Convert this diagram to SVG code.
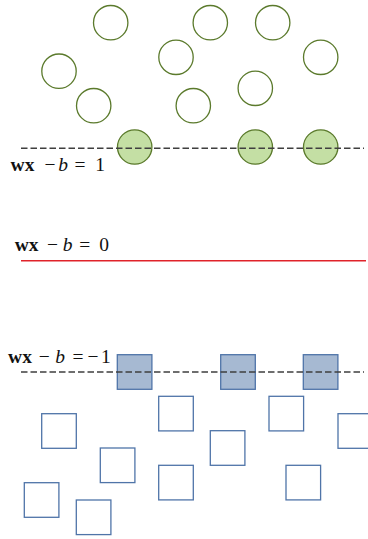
<svg xmlns="http://www.w3.org/2000/svg" width="368" height="539" viewBox="0 0 368 539">
  <style>
    .pt-c { fill: #ffffff; stroke: #5b7a2c; stroke-width: 1.3; }
    .pt-c.sv { fill: #c4dfa4; }
    .pt-s { fill: #ffffff; stroke: #4f74a8; stroke-width: 1.3; }
    .pt-s.sv { fill: #a6b9d2; }
    .margin { stroke: #3f3f3f; stroke-width: 1.5; stroke-dasharray: 6.5 3; fill: none; }
    .hyper { stroke: #e0232a; stroke-width: 1.6; fill: none; }
    .eq { font-family: "Liberation Serif", "DejaVu Serif", serif; font-size: 19.5px; fill: #111111; text-anchor: middle; }
    .eq .v { font-weight: bold; }
    .eq .i { font-style: italic; }
  </style>

  <!-- class +1: circles -->
  <g id="class-pos">
    <circle id="c1" class="pt-c" cx="110.7" cy="22.7" r="17.2"/>
    <circle id="c2" class="pt-c" cx="210.3" cy="22.7" r="17.2"/>
    <circle id="c3" class="pt-c" cx="272.7" cy="22.7" r="17.2"/>
    <circle id="c4" class="pt-c" cx="176" cy="57.3" r="17.2"/>
    <circle id="c5" class="pt-c" cx="320.7" cy="57.3" r="17.2"/>
    <circle id="c6" class="pt-c" cx="59" cy="71.2" r="17.2"/>
    <circle id="c7" class="pt-c" cx="255.3" cy="88.3" r="17.2"/>
    <circle id="c8" class="pt-c" cx="93.7" cy="105.7" r="17.2"/>
    <circle id="c9" class="pt-c" cx="193.3" cy="105.7" r="17.2"/>
    <circle id="c10" class="pt-c sv" cx="134.7" cy="147" r="17.2"/>
    <circle id="c11" class="pt-c sv" cx="255.3" cy="147" r="17.2"/>
    <circle id="c12" class="pt-c sv" cx="320.7" cy="147" r="17.2"/>
  </g>

  <!-- class -1: squares -->
  <g id="class-neg">
    <rect id="s1" class="pt-s sv" x="117.3" y="354.7" width="34.6" height="34.6"/>
    <rect id="s2" class="pt-s sv" x="220.7" y="354.7" width="34.6" height="34.6"/>
    <rect id="s3" class="pt-s sv" x="303.3" y="354.7" width="34.6" height="34.6"/>
    <rect id="s4" class="pt-s" x="158.7" y="396.3" width="34.6" height="34.6"/>
    <rect id="s5" class="pt-s" x="269" y="396.3" width="34.6" height="34.6"/>
    <rect id="s6" class="pt-s" x="41.7" y="413.7" width="34.6" height="34.6"/>
    <rect id="s7" class="pt-s" x="338" y="413.7" width="34.6" height="34.6"/>
    <rect id="s8" class="pt-s" x="210.3" y="430.7" width="34.6" height="34.6"/>
    <rect id="s9" class="pt-s" x="100.3" y="448" width="34.6" height="34.6"/>
    <rect id="s10" class="pt-s" x="158.7" y="465.3" width="34.6" height="34.6"/>
    <rect id="s11" class="pt-s" x="286" y="465.3" width="34.6" height="34.6"/>
    <rect id="s12" class="pt-s" x="24.3" y="482.7" width="34.6" height="34.6"/>
    <rect id="s13" class="pt-s" x="76.3" y="500" width="34.6" height="34.6"/>
  </g>

  <!-- margin boundaries and separating hyperplane -->
  <g id="lines">
    <line class="margin" x1="21" y1="148.3" x2="364" y2="148.3"/>
    <line class="hyper" x1="21" y1="260.7" x2="366" y2="260.7"/>
    <line class="margin" x1="21" y1="372" x2="364" y2="372"/>
  </g>

  <!-- equation labels, each symbol centred at its own position -->
  <g id="labels">
    <text class="eq" y="171"><tspan class="v" x="22.5">wx</tspan><tspan x="50">−</tspan><tspan class="i" x="63">b</tspan><tspan x="80">=</tspan><tspan x="100">1</tspan></text>
    <text class="eq" y="251.3"><tspan class="v" x="26.7">wx</tspan><tspan x="52.5">−</tspan><tspan class="i" x="67.5">b</tspan><tspan x="84.7">=</tspan><tspan x="104.2">0</tspan></text>
    <text class="eq" y="363.3"><tspan class="v" x="20">wx</tspan><tspan x="44.2">−</tspan><tspan class="i" x="60">b</tspan><tspan x="78">=</tspan><tspan x="93">−</tspan><tspan x="105.8">1</tspan></text>
  </g>
</svg>
